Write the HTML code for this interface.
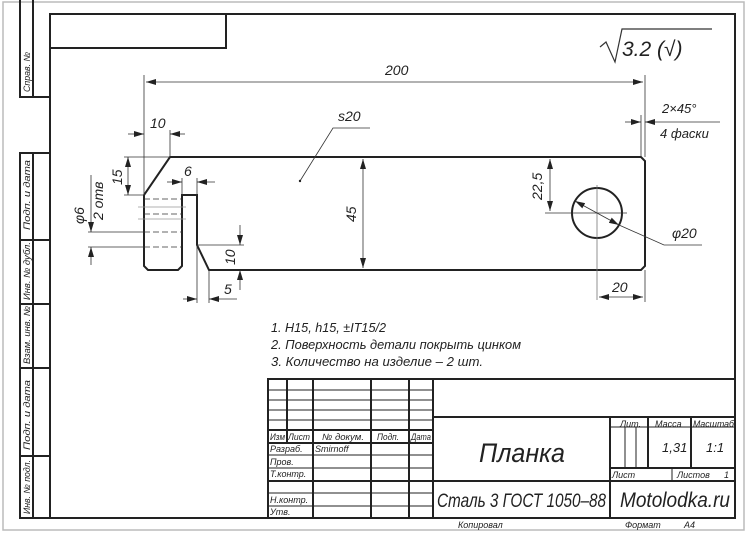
<!DOCTYPE html>
<html><head><meta charset="utf-8"><style>
html,body{margin:0;padding:0;background:#fff;}
svg{display:block;}
text{font-family:"Liberation Sans","DejaVu Sans",sans-serif;font-style:italic;fill:#222;}
</style></head><body>
<svg width="750" height="533" viewBox="0 0 750 533" xmlns="http://www.w3.org/2000/svg">
<defs>
<marker id="a" viewBox="0 0 10 6" refX="10" refY="3" markerWidth="10" markerHeight="6" orient="auto-start-reverse" markerUnits="userSpaceOnUse"><path d="M0,0 L10,3 L0,6z" fill="#222"/></marker>
</defs>
<rect x="3" y="2" width="741" height="528" fill="none" stroke="#bbb" stroke-width="1.5"/>
<g stroke="#222" stroke-width="2" fill="none">
<rect x="50" y="14" width="685" height="504"/>
<rect x="50" y="14" width="176" height="34"/>
<!-- left strip -->
<polyline points="50,97 20,97 20,0"/>
<line x1="33" y1="0" x2="33" y2="97"/>
<polyline points="50,153 20,153 20,518 50,518"/>
<line x1="33" y1="153" x2="33" y2="518"/>
<line x1="20" y1="240" x2="50" y2="240"/>
<line x1="20" y1="304" x2="50" y2="304"/>
<line x1="20" y1="368" x2="50" y2="368"/>
<line x1="20" y1="456" x2="50" y2="456"/>
<!-- part -->
<path d="M170,157 L641,157 L645,161 L645,266 L641,270 L209,270 L197,245 L197,195 L182,195 L182,266 L178,270 L148,270 L144,266 L144,195 Z"/>
<circle cx="597" cy="213" r="25"/>
<!-- title block -->
<polyline points="268,518 268,379 735,379"/>
<line x1="433" y1="379" x2="433" y2="518"/>
<line x1="433" y1="417" x2="735" y2="417"/>
<line x1="268" y1="481" x2="735" y2="481"/>
<line x1="610" y1="417" x2="610" y2="518"/>
<line x1="648" y1="417" x2="648" y2="468"/>
<line x1="691" y1="417" x2="691" y2="468"/>
<line x1="610" y1="468" x2="735" y2="468"/>
<line x1="269" y1="430" x2="433" y2="430"/>
<line x1="269" y1="443" x2="433" y2="443"/>
<line x1="287" y1="379" x2="287" y2="443"/>
<line x1="313" y1="379" x2="313" y2="518"/>
<line x1="371" y1="379" x2="371" y2="518"/>
<line x1="409" y1="379" x2="409" y2="518"/>
</g>
<g stroke="#222" stroke-width="1" fill="none">
<line x1="269" y1="390" x2="433" y2="390"/>
<line x1="269" y1="400" x2="433" y2="400"/>
<line x1="269" y1="410" x2="433" y2="410"/>
<line x1="269" y1="420" x2="433" y2="420"/>
<line x1="269" y1="455" x2="433" y2="455"/>
<line x1="269" y1="468" x2="433" y2="468"/>
<line x1="269" y1="493" x2="433" y2="493"/>
<line x1="269" y1="506" x2="433" y2="506"/>
<line x1="610" y1="427" x2="735" y2="427"/>
<line x1="625" y1="427" x2="625" y2="468"/>
<line x1="636" y1="427" x2="636" y2="468"/>
<line x1="672" y1="468" x2="672" y2="481"/>
</g>
<!-- dimensions -->
<g stroke="#333" stroke-width="0.8" fill="none">
<line x1="144" y1="75" x2="144" y2="195"/>
<line x1="645" y1="75" x2="645" y2="157"/>
<line x1="146" y1="82" x2="643" y2="82" marker-start="url(#a)" marker-end="url(#a)"/>
<line x1="641" y1="115" x2="641" y2="157"/>
<line x1="625" y1="122" x2="641" y2="122" marker-end="url(#a)"/>
<line x1="660" y1="122" x2="645" y2="122" marker-end="url(#a)"/>
<line x1="660" y1="122" x2="720" y2="122"/>
<line x1="170" y1="130" x2="170" y2="157"/>
<line x1="128" y1="134" x2="144" y2="134" marker-end="url(#a)"/>
<line x1="185" y1="134" x2="170" y2="134" marker-end="url(#a)"/>
<line x1="124" y1="157" x2="170" y2="157"/>
<line x1="124" y1="195" x2="144" y2="195"/>
<line x1="128" y1="157" x2="128" y2="195" marker-start="url(#a)" marker-end="url(#a)"/>
<line x1="182" y1="178" x2="182" y2="195"/>
<line x1="197" y1="178" x2="197" y2="195"/>
<line x1="167" y1="182" x2="182" y2="182" marker-end="url(#a)"/>
<line x1="215" y1="182" x2="197" y2="182" marker-end="url(#a)"/>
<g stroke-dasharray="6,3"><line x1="144" y1="199" x2="182" y2="199"/><line x1="144" y1="214" x2="182" y2="214"/><line x1="144" y1="232" x2="182" y2="232"/><line x1="144" y1="247" x2="182" y2="247"/></g>
<g stroke="#999"><line x1="138" y1="207" x2="186" y2="207"/><line x1="138" y1="219" x2="186" y2="219"/></g>
<line x1="88" y1="232" x2="144" y2="232"/>
<line x1="88" y1="247" x2="144" y2="247"/>
<line x1="91" y1="175" x2="91" y2="232" marker-end="url(#a)"/>
<line x1="91" y1="265" x2="91" y2="247" marker-end="url(#a)"/>
<line x1="197" y1="245" x2="244" y2="245"/>
<line x1="240" y1="225" x2="240" y2="245" marker-end="url(#a)"/>
<line x1="240" y1="290" x2="240" y2="270" marker-end="url(#a)"/>
<line x1="197" y1="245" x2="197" y2="303"/>
<line x1="209" y1="270" x2="209" y2="303"/>
<line x1="183" y1="299" x2="197" y2="299" marker-end="url(#a)"/>
<line x1="237" y1="299" x2="209" y2="299" marker-end="url(#a)"/>
<line x1="363" y1="159" x2="363" y2="268" marker-start="url(#a)" marker-end="url(#a)"/>
<polyline points="300,181 333,128 370,128"/>
<line x1="545" y1="213" x2="627" y2="213"/>
<line x1="597" y1="185" x2="597" y2="300" stroke="#777"/>
<line x1="550" y1="159" x2="550" y2="211" marker-start="url(#a)" marker-end="url(#a)"/>
<line x1="575" y1="201" x2="619" y2="225" marker-start="url(#a)" marker-end="url(#a)"/>
<polyline points="619,225 664,245 702,245"/>
<line x1="645" y1="270" x2="645" y2="302"/>
<line x1="599" y1="297" x2="643" y2="297" marker-start="url(#a)" marker-end="url(#a)"/>
<!-- roughness -->
<polyline points="600,47 606,42 615,62 622,29 712,29" stroke-width="1.2"/>
</g>
<circle cx="300" cy="181" r="1.2" fill="#222"/>
<!-- dim texts -->
<g font-size="14">
<text x="385" y="75">200</text>
<text x="150" y="128">10</text>
<text x="184" y="176">6</text>
<text x="338" y="121">s20</text>
<text x="662" y="113" font-size="13">2×45°</text>
<text x="660" y="138" font-size="13">4 фаски</text>
<text x="672" y="238">φ20</text>
<text x="612" y="292">20</text>
<text x="224" y="294">5</text>
<text transform="translate(122,185) rotate(-90)">15</text>
<text transform="translate(356,222) rotate(-90)">45</text>
<text transform="translate(542,200) rotate(-90)">22,5</text>
<text transform="translate(235,265) rotate(-90)">10</text>
<text transform="translate(84,224) rotate(-90)">φ6</text>
<text transform="translate(103,220) rotate(-90)">2 отв</text>
<text x="622" y="56" font-size="21">3.2 (√)</text>
</g>
<!-- notes -->
<g font-size="13">
<text x="271" y="332" textLength="115" lengthAdjust="spacingAndGlyphs">1. H15, h15, ±IT15/2</text>
<text x="271" y="349" textLength="250" lengthAdjust="spacingAndGlyphs">2. Поверхность детали покрыть цинком</text>
<text x="271" y="366" textLength="212" lengthAdjust="spacingAndGlyphs">3. Количество на изделие – 2 шт.</text>
</g>
<!-- title texts -->
<g font-size="9">
<text x="270" y="440" textLength="15" lengthAdjust="spacingAndGlyphs">Изм</text>
<text x="288" y="440" textLength="22" lengthAdjust="spacingAndGlyphs">Лист</text>
<text x="322" y="440" textLength="42" lengthAdjust="spacingAndGlyphs">№ докум.</text>
<text x="377" y="440" textLength="22" lengthAdjust="spacingAndGlyphs">Подп.</text>
<text x="411" y="440" textLength="20" lengthAdjust="spacingAndGlyphs">Дата</text>
<text x="270" y="452">Разраб.</text>
<text x="315" y="452">Smirnoff</text>
<text x="270" y="465">Пров.</text>
<text x="270" y="477">Т.контр.</text>
<text x="270" y="503">Н.контр.</text>
<text x="270" y="515">Утв.</text>
<text x="620" y="427">Лит.</text>
<text x="655" y="427">Масса</text>
<text x="693" y="427" textLength="41" lengthAdjust="spacingAndGlyphs">Масштаб</text>
<text x="612" y="478">Лист</text>
<text x="677" y="478">Листов</text>
<text x="724" y="478">1</text>
<text x="458" y="528">Копировал</text>
<text x="625" y="528">Формат</text>
<text x="684" y="528">А4</text>
<text transform="translate(30,92) rotate(-90)" textLength="40" lengthAdjust="spacingAndGlyphs">Справ. №</text>
<text transform="translate(30,230) rotate(-90)" textLength="70" lengthAdjust="spacingAndGlyphs">Подп. и дата</text>
<text transform="translate(30,300) rotate(-90)" textLength="58" lengthAdjust="spacingAndGlyphs">Инв. № дубл.</text>
<text transform="translate(30,364) rotate(-90)" textLength="58" lengthAdjust="spacingAndGlyphs">Взам. инв. №</text>
<text transform="translate(30,450) rotate(-90)" textLength="70" lengthAdjust="spacingAndGlyphs">Подп. и дата</text>
<text transform="translate(30,514) rotate(-90)" textLength="54" lengthAdjust="spacingAndGlyphs">Инв. № подл.</text>
</g>
<text x="662" y="452" font-size="13">1,31</text>
<text x="706" y="452" font-size="13">1:1</text>
<text x="479" y="462" font-size="27" textLength="86" lengthAdjust="spacingAndGlyphs">Планка</text>
<text x="437" y="507" font-size="19" textLength="169" lengthAdjust="spacingAndGlyphs">Сталь 3  ГОСТ 1050–88</text>
<text x="620" y="507" font-size="21" textLength="110" lengthAdjust="spacingAndGlyphs">Motolodka.ru</text>
</svg>
</body></html>
